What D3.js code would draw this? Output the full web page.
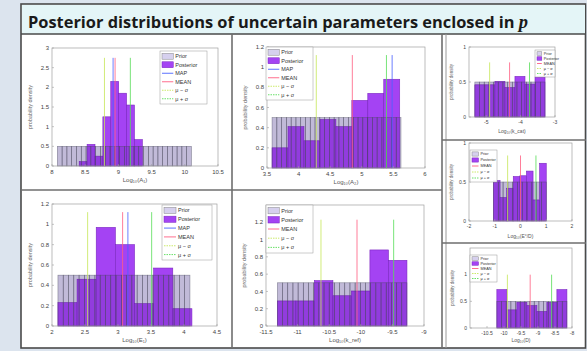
<!DOCTYPE html>
<html><head><meta charset="utf-8">
<script src="https://cdnjs.cloudflare.com/ajax/libs/d3/7.8.5/d3.min.js"></script>
<style>html,body{margin:0;padding:0;background:#dce4ee;overflow:hidden}</style>
</head><body><svg id="c" width="587" height="351"></svg>
<script>
// ---------------- DATA ----------------
const titleMain = "Posterior distributions of uncertain parameters enclosed in ";
const titleVar = "p";
const legend6 = ["Prior", "Posterior", "MAP", "MEAN", "μ − σ", "μ + σ"];
const legend5 = ["Prior", "Posterior", "MEAN", "μ − σ", "μ + σ"];
const yLabelText = "probability density";

// Panel 1 (top-left)
const p1XTicks = [8, 8.5, 9, 9.5, 10, 10.5];
const p1YTicks = [0, 0.5, 1, 1.5, 2, 2.5, 3];
const p1PostRange = [8.41, 9.36];
const p1Post = [0.11, 0.55, 0.25, 1.25, 2.15, 1.85, 1.55, 0.67];
const p1PriorRange = [8.08, 10.1];
const p1Prior = [0.5,0.5,0.5,0.5,0.5,0.5,0.5,0.5,0.5,0.5,0.5,0.5,0.5,0.5,0.5,0.5,0.5,0.5,0.5,0.5,0.5,0.5,0.5,0.5,0.5,0.5,0.5,0.5];
const p1Stats = {MAP: 8.92, MEAN: 8.95, lo: 8.79, hi: 9.18};
const p1LineTop = 2.75;

// Panel 2 (top-middle)
const p2XTicks = [3.5, 4, 4.5, 5, 5.5, 6];
const p2YTicks = [0, 0.2, 0.4, 0.6, 0.8, 1, 1.2];
const p2PostRange = [3.58, 5.6];
const p2Post = [0.2, 0.41, 0.27, 0.48, 0.41, 0.67, 0.74, 0.88];
const p2PriorRange = [3.58, 5.62];
const p2Prior = [0.5,0.5,0.5,0.5,0.5,0.5,0.5,0.5,0.5,0.5,0.5,0.5,0.5,0.5,0.5,0.5,0.5,0.5,0.5,0.5,0.5,0.5,0.5,0.5,0.5,0.5,0.5];
const p2Stats = {MAP: 5.48, MEAN: 4.85, lo: 4.28, hi: 5.39};
const p2LineTop = 1.12;

// Panel 3 (bottom-left)
const p3XTicks = [2, 2.5, 3, 3.5, 4, 4.5];
const p3YTicks = [0, 0.2, 0.4, 0.6, 0.8, 1, 1.2];
const p3PostRange = [2.09, 4.12];
const p3Post = [0.23, 0.46, 0.97, 0.8, 0.22, 0.57, 0.17];
const p3PriorRange = [2.09, 4.09];
const p3Prior = [0.5,0.5,0.5,0.5,0.5,0.5,0.5,0.5,0.5,0.5,0.5,0.5,0.5,0.5,0.5,0.5,0.5,0.5,0.5,0.5,0.5,0.5,0.5,0.5,0.5];
const p3Stats = {MAP: 3.15, MEAN: 3.07, lo: 2.54, hi: 3.51};
const p3LineTop = 1.12;

// Panel 4 (bottom-middle)
const p4XTicks = [-11.5, -11, -10.5, -10, -9.5, -9];
const p4YTicks = [0, 0.2, 0.4, 0.6, 0.8, 1, 1.2];
const p4PostRange = [-11.32, -9.27];
const p4Post = [0.29, 0.29, 0.525, 0.35, 0.405, 0.88, 0.76];
const p4PriorRange = [-11.32, -9.27];
const p4Prior = [0.5,0.5,0.5,0.5,0.5,0.5,0.5,0.5,0.5,0.5,0.5,0.5,0.5,0.5,0.5,0.5,0.5,0.5,0.5,0.5,0.5,0.5,0.5,0.5,0.5];
const p4Stats = {MEAN: -10.06, lo: -10.63, hi: -9.48};
const p4LineTop = 1.23;

// Panel 5 (right, top)
const p5XTicks = [-5, -4, -3];
const p5YTicks = [0, 0.5, 1];
const p5PostRange = [-5.33, -3.29];
const p5Post = [0.46, 0.46, 0.51, 0.42, 0.58, 0.47, 0.57];
const p5PriorRange = [-5.33, -3.29];
const p5Prior = [0.5,0.5,0.5,0.5,0.5,0.5,0.5,0.5,0.5,0.5,0.5,0.5,0.5,0.5,0.5];
const p5Stats = {MEAN: -4.32, lo: -4.9, hi: -3.74};
const p5LineTop = 0.78;

// Panel 6 (right, middle)
const p6XTicks = [-2, -1, 0, 1, 2];
const p6YTicks = [0, 0.5, 1];
const p6PostRange = [-1.05, 1.0];
const p6Post = [0.52, 0.3, 0.42, 0.57, 0.58, 0.64, 0.27, 0.74];
const p6PriorRange = [-1.05, 1.0];
const p6Prior = [0.5,0.5,0.5,0.5,0.5,0.5,0.5,0.5,0.5,0.5,0.5];
const p6Stats = {MEAN: 0.0, lo: -0.5, hi: 0.6};
const p6LineTop = 0.84;

// Panel 7 (right, bottom)
const p7XTicks = [-10.5, -10, -9.5, -9, -8.5, -8];
const p7YTicks = [0, 0.5, 1];
const p7PostRange = [-10.21, -8.15];
const p7Post = [0.72, 0.34, 0.48, 0.42, 0.31, 0.48, 0.72];
const p7PriorRange = [-10.21, -8.15];
const p7Prior = [0.5,0.5,0.5,0.5,0.5,0.5,0.5,0.5,0.5,0.5,0.5,0.5,0.5,0.5,0.5];
const p7Stats = {MEAN: -9.23, lo: -9.9, hi: -8.6};
const p7LineTop = 1.0;

// ---------------- STYLE / LAYOUT ----------------
const C = {
  priorBase: "#dcd9ec", priorOver: "#3a1870", priorStroke: "#4a4a5e",
  post: "#a443f3", postStroke: "#7a25c0",
  MAP: "#4a62ff", MEAN: "#ff5f82", lo: "#c6e85a", hi: "#58dc58",
  axis: "#a0a0a0", tick: "#444"
};

const panels = [
  {L:{left:52,right:218,top:48,bottom:166,xlab:182,fs:6,lfs:5.5},
   lg:{x:160,y:51,w:47,h:53}, xDomain:[8,10.5], yDomain:[0,3], xTicks:p1XTicks, yTicks:p1YTicks,
   postRange:p1PostRange, post:p1Post, priorRange:p1PriorRange, prior:p1Prior, stats:p1Stats, lineTop:p1LineTop,
   legend:legend6, xlabel:"Log₁₀(A₁)"},
  {L:{left:267,right:425,top:47,bottom:168,xlab:184,fs:6,lfs:5.5},
   lg:{x:266,y:47,w:47,h:53}, xDomain:[3.5,6], yDomain:[0,1.2], xTicks:p2XTicks, yTicks:p2YTicks,
   postRange:p2PostRange, post:p2Post, priorRange:p2PriorRange, prior:p2Prior, stats:p2Stats, lineTop:p2LineTop,
   legend:legend6, xlabel:"Log₁₀(A₂)"},
  {L:{left:52,right:217,top:204,bottom:326,xlab:342,fs:6,lfs:5.5},
   lg:{x:162,y:205,w:50,h:55}, xDomain:[2,4.5], yDomain:[0,1.2], xTicks:p3XTicks, yTicks:p3YTicks,
   postRange:p3PostRange, post:p3Post, priorRange:p3PriorRange, prior:p3Prior, stats:p3Stats, lineTop:p3LineTop,
   legend:legend6, xlabel:"Log₁₀(E₁)"},
  {L:{left:266,right:424,top:205,bottom:326,xlab:342,fs:6,lfs:5.5},
   lg:{x:266,y:205,w:47,h:48}, xDomain:[-11.5,-9], yDomain:[0,1.4], xTicks:p4XTicks, yTicks:p4YTicks,
   postRange:p4PostRange, post:p4Post, priorRange:p4PriorRange, prior:p4Prior, stats:p4Stats, lineTop:p4LineTop,
   legend:legend5, xlabel:"Log₁₀(k_ref)"},
  {L:{left:469,right:555,top:47,bottom:117,xlab:133,fs:5,lfs:3.8},
   lg:{x:535,y:50,w:20,h:27}, xDomain:[-5.5,-3], yDomain:[0,1], xTicks:p5XTicks, yTicks:p5YTicks,
   postRange:p5PostRange, post:p5Post, priorRange:p5PriorRange, prior:p5Prior, stats:p5Stats, lineTop:p5LineTop,
   legend:legend5, xlabel:"Log₁₀(k_cat)"},
  {L:{left:469,right:572,top:143,bottom:221,xlab:238,fs:5,lfs:3.8},
   lg:{x:470,y:150,w:27,h:32}, xDomain:[-2,2], yDomain:[0,1], xTicks:p6XTicks, yTicks:p6YTicks,
   postRange:p6PostRange, post:p6Post, priorRange:p6PriorRange, prior:p6Prior, stats:p6Stats, lineTop:p6LineTop,
   legend:legend5, xlabel:"Log₁₀(E°/D)"},
  {L:{left:470,right:572,top:248,bottom:328,xlab:342,fs:5,lfs:3.8},
   lg:{x:470,y:255,w:27,h:27}, xDomain:[-11,-8], yDomain:[0,1.5], xTicks:p7XTicks, yTicks:p7YTicks,
   postRange:p7PostRange, post:p7Post, priorRange:p7PriorRange, prior:p7Prior, stats:p7Stats, lineTop:p7LineTop,
   legend:legend5, xlabel:"Log₁₀(D)"}
];

const svg = d3.select("#c");
const FONT = "'Liberation Sans', Arial, sans-serif";

// ---------------- FRAME ----------------
svg.append("rect").attr("x",0).attr("y",0).attr("width",587).attr("height",351).attr("fill","#dce4ee");
svg.append("rect").attr("x",21).attr("y",4).attr("width",564.5).attr("height",344).attr("fill","#ffffff")
  .attr("stroke","#4a4a4a").attr("stroke-width",1.6);
svg.append("rect").attr("x",22).attr("y",5).attr("width",563).attr("height",29).attr("fill","#e4f5f7");
const sep = (x1,y1,x2,y2,w,c) => svg.append("line").attr("x1",x1).attr("y1",y1).attr("x2",x2).attr("y2",y2)
  .attr("stroke",c||"#6e6e6e").attr("stroke-width",w||1.6);
sep(21,34,586,34,1.6,"#4a4a4a");
sep(232,34,232,348);
sep(442,34,442,348);
sep(446,34,446,348,1,"#9a9a9a");
sep(21,190,442,190);
sep(442,140,586,140);
sep(442,243,586,243);

const title = svg.append("text").attr("x",28).attr("y",27.5)
  .attr("font-family","'Open Sans', 'Noto Sans', sans-serif").attr("font-weight",700)
  .attr("font-size",16.4).attr("fill","#1a1a1a");
title.append("tspan").text(titleMain);
title.append("tspan").text(titleVar).attr("font-family","'Liberation Serif', serif").attr("font-style","italic").attr("font-size",18.5);

// ---------------- PANELS ----------------
function drawPanel(p) {
  const L = p.L;
  const x = d3.scaleLinear().domain(p.xDomain).range([L.left, L.right]);
  const y = d3.scaleLinear().domain(p.yDomain).range([L.bottom, L.top]);
  const g = svg.append("g");

  const pb = d3.scaleLinear().domain([0, p.prior.length]).range(p.priorRange);
  const qb = d3.scaleLinear().domain([0, p.post.length]).range(p.postRange);

  // prior base
  g.append("g").selectAll("rect").data(p.prior).join("rect")
    .attr("x",(v,i)=>x(pb(i))).attr("width",(v,i)=>x(pb(i+1))-x(pb(i)))
    .attr("y",v=>y(v)).attr("height",v=>y(0)-y(v)).attr("fill",C.priorBase);
  // posterior
  g.append("g").selectAll("rect").data(p.post).join("rect")
    .attr("x",(v,i)=>x(qb(i))).attr("width",(v,i)=>x(qb(i+1))-x(qb(i)))
    .attr("y",v=>y(v)).attr("height",v=>y(0)-y(v))
    .attr("fill",C.post).attr("stroke",C.postStroke).attr("stroke-width",0.6);
  // prior overlay with edges
  g.append("g").selectAll("rect").data(p.prior).join("rect")
    .attr("x",(v,i)=>x(pb(i))).attr("width",(v,i)=>x(pb(i+1))-x(pb(i)))
    .attr("y",v=>y(v)).attr("height",v=>y(0)-y(v))
    .attr("fill",C.priorOver).attr("fill-opacity",0.16)
    .attr("stroke",C.priorStroke).attr("stroke-opacity",0.6).attr("stroke-width",0.6);

  // stat lines
  const keys = ["lo","MEAN","MAP","hi"].filter(k => p.stats[k] !== undefined);
  g.append("g").selectAll("line").data(keys).join("line")
    .attr("x1",k=>x(p.stats[k])).attr("x2",k=>x(p.stats[k]))
    .attr("y1",y(0)).attr("y2",y(p.lineTop))
    .attr("stroke",k=>C[k]).attr("stroke-width",0.9).attr("stroke-opacity",0.9);

  // axes box
  g.append("rect").attr("x",L.left).attr("y",L.top).attr("width",L.right-L.left).attr("height",L.bottom-L.top)
    .attr("fill","none").attr("stroke",C.axis).attr("stroke-width",0.7);
  // x ticks
  const xa = g.append("g");
  xa.selectAll("line").data(p.xTicks).join("line")
    .attr("x1",v=>x(v)).attr("x2",v=>x(v)).attr("y1",L.bottom).attr("y2",L.bottom-2)
    .attr("stroke",C.axis).attr("stroke-width",0.6);
  xa.selectAll("text").data(p.xTicks).join("text")
    .attr("x",v=>x(v)).attr("y",L.bottom+L.fs+1.5).attr("text-anchor","middle")
    .attr("font-family",FONT).attr("font-size",L.fs).attr("fill",C.tick).text(v=>String(v));
  // y ticks
  const ya = g.append("g");
  ya.selectAll("line").data(p.yTicks).join("line")
    .attr("x1",L.left).attr("x2",L.left+2).attr("y1",v=>y(v)).attr("y2",v=>y(v))
    .attr("stroke",C.axis).attr("stroke-width",0.6);
  ya.selectAll("text").data(p.yTicks).join("text")
    .attr("x",L.left-3).attr("y",v=>y(v)+L.fs*0.35).attr("text-anchor","end")
    .attr("font-family",FONT).attr("font-size",L.fs).attr("fill",C.tick).text(v=>String(v));
  // labels
  g.append("text").attr("x",(L.left+L.right)/2).attr("y",L.xlab).attr("text-anchor","middle")
    .attr("font-family",FONT).attr("font-size",L.fs).attr("fill","#555").text(p.xlabel);
  const ylx = L.left - L.fs*3.3;
  g.append("text").attr("transform",`translate(${ylx},${(L.top+L.bottom)/2}) rotate(-90)`)
    .attr("text-anchor","middle").attr("font-family",FONT).attr("font-size",L.fs-0.5).attr("fill","#666").text(yLabelText);

  // legend
  const lg = p.lg, n = p.legend.length;
  const lgG = g.append("g");
  lgG.append("rect").attr("x",lg.x).attr("y",lg.y).attr("width",lg.w).attr("height",lg.h)
    .attr("fill","#ffffff").attr("fill-opacity",0.92).attr("stroke","#999").attr("stroke-width",0.5);
  const rh = (lg.h - 2) / n;
  const sw = lg.w * 0.24;
  p.legend.forEach((name, i) => {
    const cy = lg.y + 1 + rh*(i+0.5);
    const sx = lg.x + 2;
    if (name === "Prior" || name === "Posterior") {
      lgG.append("rect").attr("x",sx).attr("y",cy-rh*0.35).attr("width",sw).attr("height",rh*0.7)
        .attr("fill",name==="Prior"?"#d6d0ee":C.post).attr("stroke",name==="Prior"?"#888":C.postStroke).attr("stroke-width",0.5);
    } else {
      const key = name==="MAP"?"MAP":name==="MEAN"?"MEAN":name.includes("−")?"lo":"hi";
      lgG.append("line").attr("x1",sx).attr("x2",sx+sw).attr("y1",cy).attr("y2",cy)
        .attr("stroke",C[key]).attr("stroke-width",0.9)
        .attr("stroke-dasharray", (key==="lo"||key==="hi") ? "1.5,1" : null);
    }
    lgG.append("text").attr("x",sx+sw+2).attr("y",cy+L.lfs*0.35)
      .attr("font-family",FONT).attr("font-size",L.lfs).attr("fill","#333").text(name);
  });
}

panels.forEach(drawPanel);
</script></body></html>
